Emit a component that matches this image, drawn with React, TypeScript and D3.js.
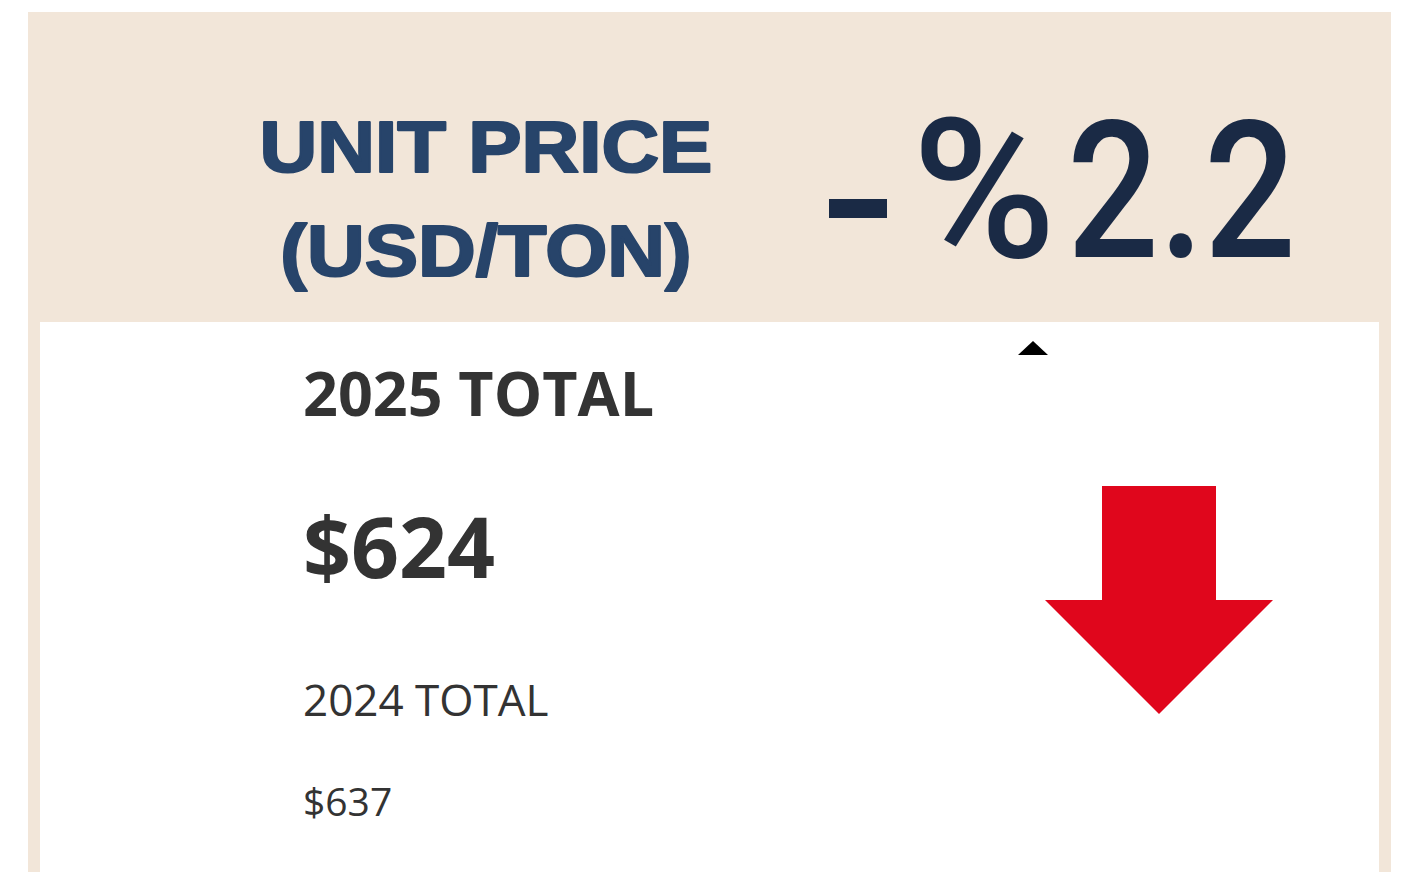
import React from "react";
import * as d3 from "d3";

const title: string[] = ["UNIT PRICE", "(USD/TON)"];
const periods: string[] = ["2025 TOTAL", "2024 TOTAL"];
const values: number[] = [624, 637];
const changePct: number[] = [-2.2];

const W = 1412;
const H = 872;

export default function App() {
  const fmt = (v: number) => "$" + d3.format(",.0f")(v);
  const pct = Math.abs(changePct[0]).toFixed(1);
  const ax = d3.scaleLinear().domain([0, 1]).range([1045, 1273]);
  const ay = d3.scaleLinear().domain([0, 1]).range([486, 714]);
  const arrowPts: [number, number][] = [
    [0.25, 0], [0.75, 0], [0.75, 0.5], [1, 0.5], [0.5, 1], [0, 0.5], [0.25, 0.5],
  ];
  const line = d3.line<[number, number]>().x((d) => ax(d[0])).y((d) => ay(d[1]));
  const arrowPath = line(arrowPts) + "Z";
  const down = changePct[0] < 0;

  return (
    <svg width={W} height={H} style={{ position: "absolute", left: 0, top: 0 }}>
      <rect x={0} y={0} width={W} height={H} fill="#ffffff" />
      <rect x={28} y={12} width={1363} height={H} fill="#f2e6d9" />
      <rect x={40} y={322} width={1339} height={H} fill="#ffffff" />
      <g transform="translate(486,0) scale(1.11,1)" fontFamily="'Liberation Sans', Arial, sans-serif" fontWeight="bold" fill="#27446a" stroke="#27446a" strokeWidth={2.2} strokeLinejoin="round" textAnchor="middle">
        <text x={0} y={172} fontSize={72}>{title[0]}</text>
        <text x={0} y={276} fontSize={72}>{title[1]}</text>
      </g>
      <g fontFamily="Roboto, sans-serif" fontWeight={500} fill="#1a2a45">
        <rect x={829} y={199} width={58} height={19} />
        <text x={912} y={257} fontSize={194} textLength={144} lengthAdjust="spacingAndGlyphs">%</text>
        <text x={1067} y={257} fontSize={192} textLength={229} lengthAdjust="spacingAndGlyphs">{pct}</text>
      </g>
      <path d="M1018,355 L1033,341 L1048,355 Z" fill="#000" />
      <g fontFamily="'Open Sans', sans-serif" fill="#333333">
        <text x={303} y={416} fontSize={61} fontWeight="bold">{periods[0]}</text>
        <text x={303} y={578} fontSize={84} fontWeight="bold">{fmt(values[0])}</text>
        <text x={303} y={716} fontSize={44}>{periods[1]}</text>
        <text x={303} y={816} fontSize={39}>{fmt(values[1])}</text>
      </g>
      {down && <path d={arrowPath} fill="#e0061c" />}
    </svg>
  );
}
